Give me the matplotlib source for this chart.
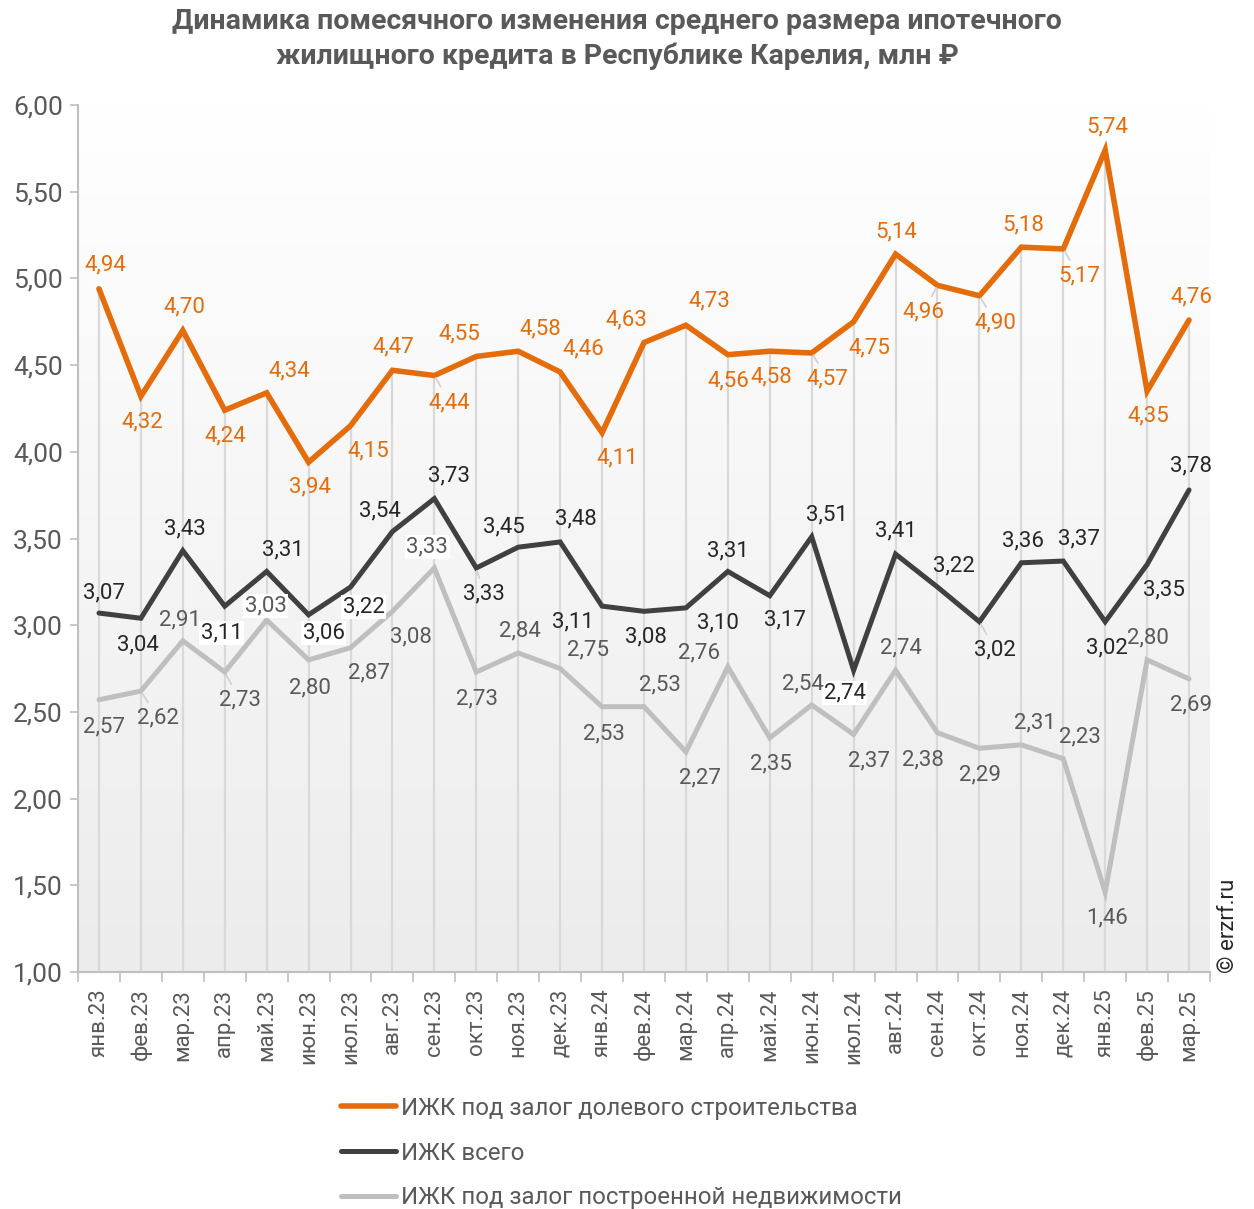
import numpy as np
import matplotlib
matplotlib.use("Agg")
import matplotlib.pyplot as plt
from matplotlib.ticker import FuncFormatter

plt.rcParams['font.family'] = ['Roboto', 'DejaVu Sans']

# данные
mesyacy = ['янв.23', 'фев.23', 'мар.23', 'апр.23', 'май.23', 'июн.23', 'июл.23', 'авг.23',
           'сен.23', 'окт.23', 'ноя.23', 'дек.23', 'янв.24', 'фев.24', 'мар.24', 'апр.24',
           'май.24', 'июн.24', 'июл.24', 'авг.24', 'сен.24', 'окт.24', 'ноя.24', 'дек.24',
           'янв.25', 'фев.25', 'мар.25']
ddu = [4.94, 4.32, 4.70, 4.24, 4.34, 3.94, 4.15, 4.47, 4.44, 4.55, 4.58, 4.46, 4.11, 4.63,
       4.73, 4.56, 4.58, 4.57, 4.75, 5.14, 4.96, 4.90, 5.18, 5.17, 5.74, 4.35, 4.76]
vsego = [3.07, 3.04, 3.43, 3.11, 3.31, 3.06, 3.22, 3.54, 3.73, 3.33, 3.45, 3.48, 3.11, 3.08,
         3.10, 3.31, 3.17, 3.51, 2.74, 3.41, 3.22, 3.02, 3.36, 3.37, 3.02, 3.35, 3.78]
gotovoe = [2.57, 2.62, 2.91, 2.73, 3.03, 2.80, 2.87, 3.08, 3.33, 2.73, 2.84, 2.75, 2.53, 2.53,
           2.27, 2.76, 2.35, 2.54, 2.37, 2.74, 2.38, 2.29, 2.31, 2.23, 1.46, 2.80, 2.69]
nazvaniya = ['ИЖК под залог долевого строительства', 'ИЖК всего',
             'ИЖК под залог построенной недвижимости']

# сдвиги подписей в пикселях (dx, dy вверх)
sdvig_ddu = [(6, 24), (1, -26), (2, 23), (1, -26), (23, 22), (1, -25), (18, -25), (1, 23),
             (15, -27), (-17, 22), (22, 22), (23, 23), (15, -25), (-18, 23), (23, 24), (1, -26),
             (2, -26), (16, -26), (16, -26), (1, 22), (-14, -27), (16, -27), (2, 22), (16, -27),
             (2, 23), (1, -25), (2, 23)]
sdvig_vsego = [(5, 20), (-3, -27), (2, 22), (-3, -27), (16, 22), (15, -18), (13, -20), (-13, 21),
               (15, 23), (8, -26), (-14, 20), (16, 23), (-29, -16), (2, -26), (32, -15), (0, 21),
               (15, -24), (15, 22), (-9, -23), (0, 23), (16, 21), (16, -28), (2, 22), (16, 22),
               (2, -26), (17, -25), (2, 24)]
sdvig_got = [(5, -27), (17, -27), (-3, 21), (15, -28), (-1, 14), (1, -28), (18, -25), (18, -26),
             (-7, 21), (1, -27), (2, 22), (28, 19), (2, -27), (16, 22), (14, -26), (-29, 14),
             (1, -26), (-9, 21), (15, -26), (5, 22), (-15, -27), (1, -27), (14, 22), (17, 22),
             (2, -26), (1, 22), (2, -26)]
vynoski = {0: [8, 17, 20, 21, 23], 1: [9, 21], 2: [1, 3]}
belyi_fon = {0: [], 1: [3, 5, 6, 18], 2: [4, 8]}

x = np.arange(len(mesyacy))

fig = plt.figure(figsize=(12.54, 12.09), dpi=100)
ax = fig.add_axes([78/1254, 1-972/1209, (1210-78)/1254, (972-105)/1209])

# фон-градиент
grad = np.linspace(1, 0, 256).reshape(-1, 1)
ax.imshow(grad, extent=[0, 1, 0, 1], transform=ax.transAxes, aspect='auto',
          cmap=matplotlib.colors.LinearSegmentedColormap.from_list('g', ['#ececec', '#ffffff']),
          zorder=0)

# линии проекции
ax.vlines(x, 1, ddu, color='#d9d9d9', lw=1.6, zorder=1)

cveta = ['#e46c0a', '#404040', '#bfbfbf']
cveta_txt = ['#e46c0a', '#262626', '#595959']
tolsh = [4.0, 3.6, 3.6]
for k, (ser, sdv) in enumerate([(ddu, sdvig_ddu), (vsego, sdvig_vsego), (gotovoe, sdvig_got)]):
    ax.plot(x, ser, color=cveta[k], lw=tolsh[k], label=nazvaniya[k], zorder=3,
            solid_capstyle='round', solid_joinstyle='miter')
    for i, v in enumerate(ser):
        kw = {}
        if i in belyi_fon[k]:
            kw['bbox'] = dict(facecolor='white', edgecolor='none', pad=1)
        if i in vynoski[k]:
            kw['arrowprops'] = dict(arrowstyle='-', color='#d0d0d0', lw=1.2, shrinkA=2, shrinkB=2)
        ax.annotate(f'{v:.2f}'.replace('.', ','), (i, v), xytext=sdv[i],
                    textcoords='offset pixels', ha='center', va='center',
                    fontsize=16, color=cveta_txt[k], zorder=6, **kw)

ax.set_xlim(-0.45, 26.48)
ax.set_ylim(1, 6)
ax.set_yticks(np.arange(1, 6.01, 0.5))
ax.yaxis.set_major_formatter(FuncFormatter(lambda v, p: f'{v:.2f}'.replace('.', ',')))
ax.set_xticks(x)
ax.set_xticklabels(mesyacy, rotation=90)
ax.set_xticks(np.arange(-0.5, 26.6, 1), minor=True)
ax.tick_params(axis='x', which='major', length=0, pad=12, labelsize=16, labelcolor='#595959')
ax.tick_params(axis='x', which='minor', length=7, color='#bfbfbf', width=1.2)
ax.tick_params(axis='y', length=6, color='#bfbfbf', width=1.2, labelsize=19,
               labelcolor='#595959', pad=5)
for s in ['top', 'right']:
    ax.spines[s].set_visible(False)
for s in ['left', 'bottom']:
    ax.spines[s].set_color('#bfbfbf')
    ax.spines[s].set_linewidth(1.5)

fig.text(0.492, 1-39/1209, 'Динамика помесячного изменения среднего размера ипотечного\n'
         'жилищного кредита в Республике Карелия, млн ₽', ha='center', va='center',
         fontsize=20.5, fontweight='bold', color='#595959', linespacing=1.35)

fig.text(1228/1254, 1-926/1209, '© erzrf.ru', rotation=90, ha='center', va='center',
         fontsize=16, color='#262626')

fig.legend(loc='center left', bbox_to_anchor=(341/1254, 1-1153/1209), frameon=False,
           fontsize=17.3, handlelength=2.3, handletextpad=0.2, labelspacing=0.9,
           borderpad=0, borderaxespad=0, labelcolor='#595959')

fig.savefig('out.png', dpi=100)
